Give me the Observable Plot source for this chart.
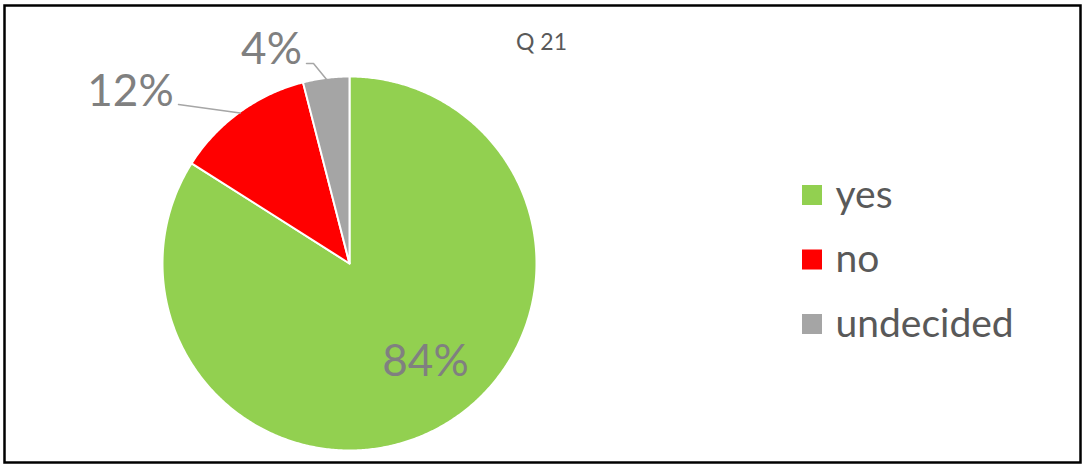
<!DOCTYPE html>
<html>
<head>
<meta charset="utf-8">
<script src="https://cdn.jsdelivr.net/npm/d3@7"></script>
<script src="https://cdn.jsdelivr.net/npm/@observablehq/plot@0.6"></script>
<style>
  html, body { margin: 0; padding: 0; background: #fff; }
  #chart svg { display: block; }
</style>
</head>
<body>
<div id="chart"></div>
<script>
// ---- data ----
const categories = ["yes", "no", "undecided"];
const values = [84, 12, 4];
const pctLabels = ["84%", "12%", "4%"];
const colors = ["#92D050", "#FF0000", "#A5A5A5"];
const title = "Q 21";

// ---- layout ----
const W = 1083, H = 464;
const cx = 349, cy = 263, R = 187;
const font = "Lato, 'Open Sans', sans-serif";
const labelLayout = {
  yes: {inside: true, x: 425, y: 375},
  no: {inside: false, x: 130, y: 105, leaderStart: [178, 104]},
  undecided: {inside: false, x: 271, y: 63, leaderStart: [306, 63], elbow: [313, 63]}
};
const legendX = 812, legendY0 = 195, legendStep = 64.5, legendBox = 20;

const rows = categories.map((c, i) => ({category: c, value: values[i], label: pctLabels[i], color: colors[i]}));
const arcs = d3.pie().sort(null).value(d => d.value)(rows);

const pt = (a, r) => [cx + r * Math.sin(a), cy - r * Math.cos(a)];

// polygon points for each slice
const slicePts = [];
arcs.forEach(a => {
  const n = Math.max(2, Math.ceil((a.endAngle - a.startAngle) / (Math.PI / 360)));
  slicePts.push({category: a.data.category, x: cx, y: cy});
  for (let k = 0; k <= n; k++) {
    const [x, y] = pt(a.startAngle + (a.endAngle - a.startAngle) * k / n, R);
    slicePts.push({category: a.data.category, x, y});
  }
  slicePts.push({category: a.data.category, x: cx, y: cy});
});

// leader lines: from label to the arc edge at the slice's mid-angle
const leaderPts = [];
arcs.forEach(a => {
  const L = labelLayout[a.data.category];
  if (L.inside) return;
  const mid = (a.startAngle + a.endAngle) / 2;
  const [ex, ey] = pt(mid, R - 1);
  leaderPts.push({category: a.data.category, x: L.leaderStart[0], y: L.leaderStart[1]});
  if (L.elbow) leaderPts.push({category: a.data.category, x: L.elbow[0], y: L.elbow[1]});
  leaderPts.push({category: a.data.category, x: ex, y: ey});
});

const labelRows = rows.map(d => ({...d, x: labelLayout[d.category].x, y: labelLayout[d.category].y}));
const legendRows = rows.map((d, i) => ({...d, y: legendY0 + i * legendStep}));

const plot = Plot.plot({
  width: W,
  height: H,
  margin: 0,
  style: {background: "#fff", fontFamily: font},
  x: {type: "identity", axis: null},
  y: {type: "identity", axis: null},
  color: {domain: categories, range: colors},
  marks: [
    Plot.line(slicePts, {x: "x", y: "y", z: "category", fill: "category", stroke: "#fff", strokeWidth: 2, curve: "linear"}),
    Plot.line(leaderPts, {x: "x", y: "y", z: "category", stroke: "#A6A6A6", strokeWidth: 1.5}),
    Plot.text(labelRows, {x: "x", y: "y", text: "label", fill: "#808080", fontSize: 44, textAnchor: "middle", lineAnchor: "bottom", fontFamily: font}),
    Plot.text([title], {x: () => 541, y: () => 49, text: d => d, fill: "#595959", fontSize: 23, textAnchor: "middle", lineAnchor: "bottom", fontFamily: font}),
    Plot.rect(legendRows, {x1: () => legendX - legendBox / 2, x2: () => legendX + legendBox / 2, y1: d => d.y - legendBox / 2, y2: d => d.y + legendBox / 2, fill: "category"}),
    Plot.text(legendRows, {x: () => legendX + 23, y: d => d.y + 12, text: "category", fill: "#595959", fontSize: 39, textAnchor: "start", lineAnchor: "bottom", fontFamily: font}),
    Plot.frame({stroke: "#000", strokeWidth: 2.5, insetLeft: 4, insetTop: 5, insetRight: 3, insetBottom: 2})
  ]
});
document.getElementById("chart").appendChild(plot);
</script>
</body>
</html>
